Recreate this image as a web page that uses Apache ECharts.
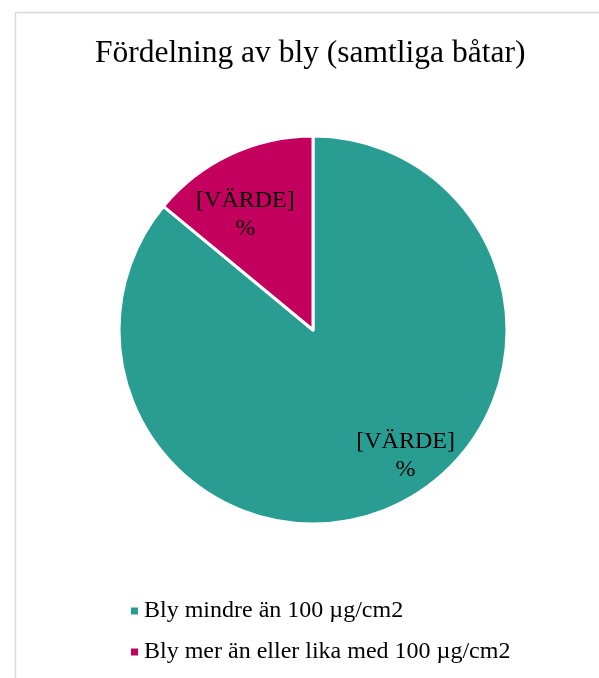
<!DOCTYPE html>
<html>
<head>
<meta charset="utf-8">
<script src="https://cdn.jsdelivr.net/npm/echarts@6/dist/echarts.min.js"></script>
<style>
  html, body { margin: 0; padding: 0; background: #fff; }
  #main { width: 599px; height: 678px; }
</style>
</head>
<body>
<div id="main"></div>
<script>
// data
const categories = ['Bly mindre än 100 µg/cm2', 'Bly mer än eller lika med 100 µg/cm2'];
const values = [86, 14];
const colors = ['#299D92', '#C4005F'];
const labelOffsets = [[50, 35], [-25, -25]];

const font = '"Liberation Serif", "Times New Roman", serif';

const chart = echarts.init(document.getElementById('main'));

const option = {
    backgroundColor: '#fff',
    animation: false,
    title: {
        text: 'Fördelning av bly (samtliga båtar)',
        left: 90,
        top: 33,
        textStyle: { fontFamily: font, fontSize: 31.5, fontWeight: 'normal', color: '#000' }
    },
    legend: {
        orient: 'vertical',
        left: 124,
        top: 593,
        itemWidth: 9,
        itemHeight: 9,
        itemGap: 15,
        icon: 'rect',
        textStyle: { fontFamily: font, fontSize: 24, lineHeight: 26, color: '#000' },
        data: categories
    },
    graphic: [{
        type: 'rect',
        shape: { x: 15.5, y: 12.5, width: 800, height: 800 },
        style: { fill: 'none', stroke: '#d9d9d9', lineWidth: 1.5 },
        silent: true
    }],
    series: [{
        type: 'pie',
        center: [313, 330],
        radius: [0, 194],
        startAngle: 90,
        clockwise: true,
        itemStyle: { borderColor: '#fff', borderWidth: 3 },
        label: {
            show: true,
            position: 'inside',
            formatter: '[VÄRDE]\n%',
            fontFamily: font,
            fontSize: 24,
            lineHeight: 28,
            color: '#000'
        },
        labelLine: { show: false },
        data: categories.map((name, i) => ({
            name: name,
            value: values[i],
            itemStyle: { color: colors[i] },
            label: { offset: labelOffsets[i] }
        }))
    }]
};

option && chart.setOption(option);
</script>
</body>
</html>
